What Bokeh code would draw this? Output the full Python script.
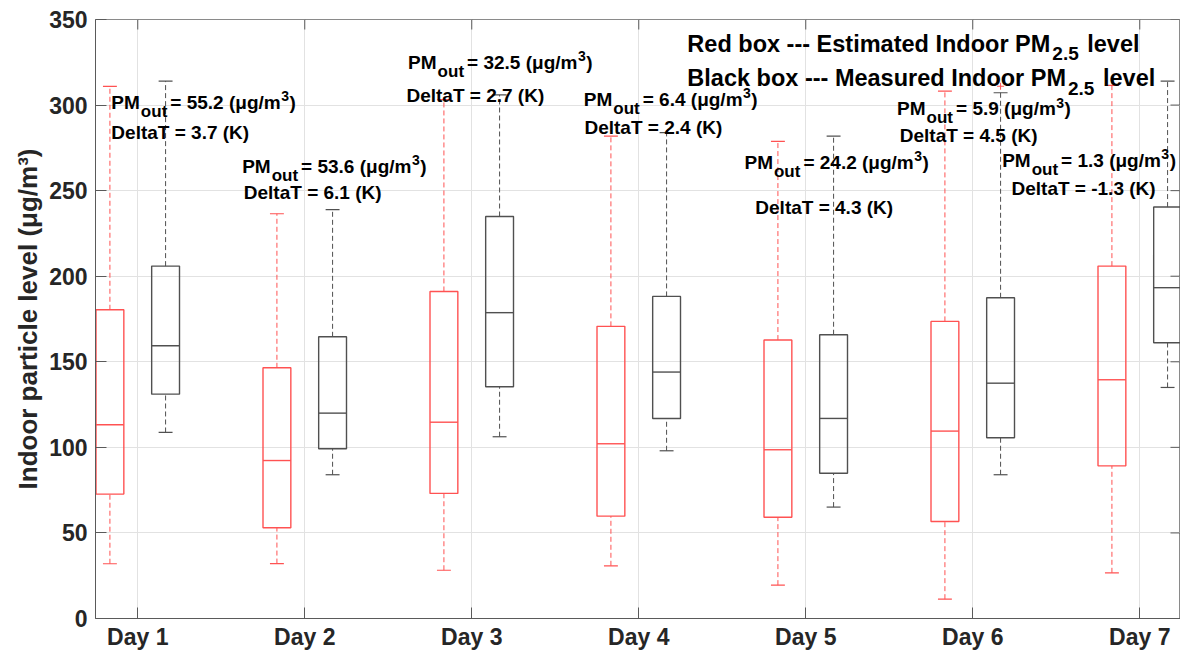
import numpy as np
from bokeh.plotting import figure
from bokeh.models import FixedTicker, ColumnDataSource, Range1d
from bokeh.core.properties import value
from bokeh.embed import file_html
from bokeh.resources import INLINE

# ---------------- data ----------------
days = [1, 2, 3, 4, 5, 6, 7]
day_labels = ["Day 1", "Day 2", "Day 3", "Day 4", "Day 5", "Day 6", "Day 7"]
y_ticks = [0, 50, 100, 150, 200, 250, 300, 350]

# Estimated indoor PM2.5 (red boxes)
est_low = [32.0, 32.1, 28.2, 30.8, 19.5, 11.3, 26.7]
est_q1 = [72.7, 53.0, 73.1, 59.8, 59.2, 56.7, 89.2]
est_med = [113.2, 92.3, 114.7, 102.1, 98.6, 109.5, 139.5]
est_q3 = [180.4, 146.5, 191.1, 170.7, 162.7, 173.6, 205.9]
est_high = [310.9, 236.5, 303.2, 281.9, 278.8, 308.2, 311.5]

# Measured indoor PM2.5 (black boxes)
mea_low = [108.7, 84.0, 106.2, 98.0, 65.1, 84.0, 135.0]
mea_q1 = [131.1, 99.2, 135.4, 116.9, 84.9, 105.6, 161.1]
mea_med = [159.4, 120.0, 178.7, 144.0, 116.9, 137.5, 193.3]
mea_q3 = [205.9, 164.6, 234.9, 188.2, 165.8, 187.4, 240.4]
mea_high = [314.0, 238.9, 305.9, 283.9, 281.9, 307.2, 314.0]

outlier_day = [6]
outlier_val = [311.0]

# annotations
pm_out = ["55.2", "53.6", "32.5", "6.4", "24.2", "5.9", "1.3"]
delta_t = ["3.7", "6.1", "2.7", "2.4", "4.3", "4.5", "-1.3"]
pm_pos_x = [0.842, 1.625, 2.619, 3.671, 4.633, 5.547, 6.176]
pm_pos_y = [301.6, 264.2, 325.1, 303.3, 266.7, 297.9, 267.7]
dt_pos_x = [0.842, 1.635, 2.609, 3.675, 4.698, 5.563, 6.232]
dt_pos_y = [284.2, 249.0, 305.7, 287.1, 240.4, 282.3, 251.1]

legend_lines = ["Red box --- Estimated Indoor PM", "Black box --- Measured Indoor PM"]
legend_x = [4.291, 4.291]
legend_y = [335.9, 315.8]

# ---------------- styling ----------------
FONT = "Liberation Sans"
RED = "#ff5252"
BLK = "#505050"
BOX_W = 1 / 6
OFF = 1 / 6
X0, X1 = 0.747, 7.244

# Arial / Liberation Sans Bold advance widths (per 1000 em)
WID = {' ': 278, '(': 333, ')': 333, '-': 333, '.': 278, '/': 278, '=': 584,
       'μ': 611, '³': 333}
for c in "0123456789":
    WID[c] = 556
WID.update(dict(A=722, B=722, C=722, D=722, E=667, F=611, G=778, H=722, I=278, J=556,
                K=722, L=611, M=833, N=722, O=778, P=667, Q=778, R=722, S=667, T=611,
                U=722, V=667, W=944, X=667, Y=667, Z=611))
WID.update(dict(a=556, b=611, c=556, d=611, e=556, f=333, g=611, h=611, i=278, j=278,
                k=556, l=278, m=889, n=611, o=611, p=611, q=611, r=389, s=556, t=333,
                u=611, v=556, w=778, x=556, y=556, z=500))


def tw(s, fs):
    return sum(WID.get(ch, 556) for ch in s) / 1000.0 * fs


p = figure(width=1180, height=652, output_backend="svg", toolbar_location=None,
           x_range=Range1d(X0, X1), y_range=Range1d(0, 350),
           min_border_left=95, min_border_top=19, min_border_right=0, min_border_bottom=0,
           background_fill_color="white", border_fill_color="white")
p.outline_line_color = "#8a8a8a"

# axes
p.xaxis.ticker = FixedTicker(ticks=days)
p.xaxis.major_label_overrides = {d: l for d, l in zip(days, day_labels)}
p.yaxis.ticker = FixedTicker(ticks=y_ticks)
for ax in (p.xaxis[0], p.yaxis[0]):
    ax.major_tick_in = 11
    ax.major_tick_out = 0
    ax.minor_tick_in = 0
    ax.minor_tick_out = 0
    ax.axis_line_color = "#5a5a5a"
    ax.major_tick_line_color = "#5a5a5a"
    ax.major_label_text_font = FONT
    ax.major_label_text_font_style = "bold"
    ax.major_label_text_font_size = "23px"
    ax.major_label_text_color = "#262626"
p.xaxis.major_label_standoff = 5
p.yaxis.major_label_standoff = 8
p.yaxis.axis_label = "Indoor particle level (μg/m³)"
p.yaxis.axis_label_text_font = FONT
p.yaxis.axis_label_text_font_style = "bold"
p.yaxis.axis_label_text_font_size = "26px"
p.yaxis.axis_label_text_color = "#262626"
p.yaxis.axis_label_standoff = 3

p.xgrid.ticker = FixedTicker(ticks=days)
p.ygrid.ticker = FixedTicker(ticks=y_ticks)
p.grid.grid_line_color = "#e2e2e2"
p.grid.grid_line_width = 1

# inward ticks on the top and right border (half of each dash is clipped by the frame)
p.scatter([X1] * len(y_ticks), y_ticks, marker="dash", size=20,
          line_color="#5a5a5a", line_width=1)
p.scatter(days, [350] * len(days), marker="dash", size=20, angle=np.pi / 2,
          line_color="#5a5a5a", line_width=1)


def draw_boxes(xs, low, q1, med, q3, high, color):
    xs = np.asarray(xs, dtype=float)
    src = ColumnDataSource(dict(
        x=xs, x0=xs - BOX_W / 2, x1=xs + BOX_W / 2,
        c0=xs - BOX_W / 4, c1=xs + BOX_W / 4,
        low=low, q1=q1, med=med, q3=q3, high=high))
    # whiskers (dashed)
    p.segment(x0="x", x1="x", y0="q3", y1="high", source=src,
              line_color=color, line_width=1, line_dash="5 3")
    p.segment(x0="x", x1="x", y0="low", y1="q1", source=src,
              line_color=color, line_width=1, line_dash="5 3")
    # caps
    p.segment(x0="c0", x1="c1", y0="high", y1="high", source=src, line_color=color, line_width=1.2)
    p.segment(x0="c0", x1="c1", y0="low", y1="low", source=src, line_color=color, line_width=1.2)
    # box
    p.quad(left="x0", right="x1", bottom="q1", top="q3", source=src,
           fill_color=None, line_color=color, line_width=1.4)
    # median
    p.segment(x0="x0", x1="x1", y0="med", y1="med", source=src, line_color=color, line_width=1.4)


draw_boxes([d - OFF for d in days], est_low, est_q1, est_med, est_q3, est_high, RED)
draw_boxes([d + OFF for d in days], mea_low, mea_q1, mea_med, mea_q3, mea_high, BLK)
p.scatter([d + OFF for d in outlier_day], outlier_val, marker="cross", size=7,
          line_color=RED, line_width=1)

# ---------------- texts ----------------
FS = 19
SUB = 17
SUP = 14
groups = {}


def add_piece(size, x, y, txt, dx, dy):
    g = groups.setdefault(size, dict(x=[], y=[], text=[], dx=[], dy=[]))
    g["x"].append(x)
    g["y"].append(y)
    g["text"].append(txt)
    g["dx"].append(dx)
    g["dy"].append(dy)


for i in range(len(days)):
    x, y = pm_pos_x[i], pm_pos_y[i]
    dx = 0.0
    add_piece(FS, x, y, "PM", dx, 0)
    dx += tw("PM", FS) + 1
    add_piece(SUB, x, y, "out", dx, 9)
    dx += tw("out", SUB) + 3
    s = "= %s (μg/m" % pm_out[i]
    add_piece(FS, x, y, s, dx, 0)
    dx += tw(s, FS) + 0.5
    add_piece(SUP, x, y, "3", dx, -6)
    dx += tw("3", SUP) + 0.5
    add_piece(FS, x, y, ")", dx, 0)
    add_piece(FS, dt_pos_x[i], dt_pos_y[i], "DeltaT = %s (K)" % delta_t[i], 0, 0)

LFS = 23.5
LSUB = 19
for i in range(len(legend_lines)):
    x, y = legend_x[i], legend_y[i]
    dx = 0.0
    add_piece(LFS, x, y, legend_lines[i], dx, 0)
    dx += tw(legend_lines[i], LFS) + 2
    add_piece(LSUB, x, y, "2.5", dx, 10)
    dx += tw("2.5", LSUB) + tw(" ", LFS) + 2
    add_piece(LFS, x, y, "level", dx, 0)

for size, g in groups.items():
    src = ColumnDataSource(g)
    p.text(x="x", y="y", text="text", x_offset="dx", y_offset="dy", source=src,
           text_font=value(FONT), text_font_style="bold", text_font_size="%gpx" % size,
           text_color="black", text_align="left", text_baseline="alphabetic")

open("out.html", "w").write(file_html(p, INLINE))
